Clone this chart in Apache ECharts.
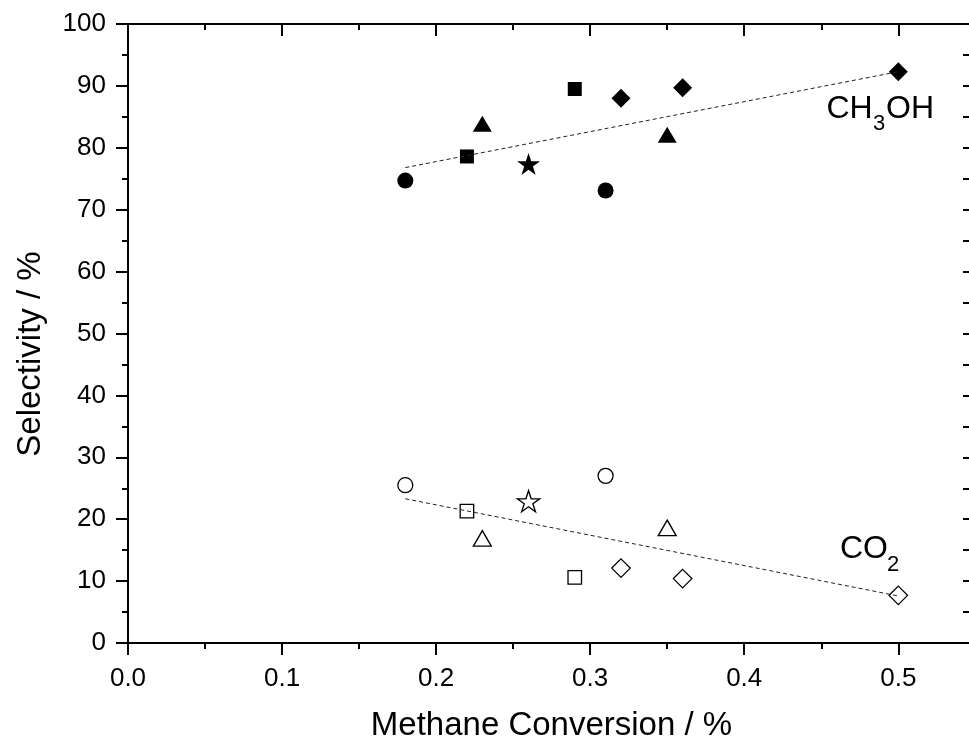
<!DOCTYPE html>
<html><head><meta charset="utf-8">
<script src="https://cdn.jsdelivr.net/npm/echarts@6/dist/echarts.min.js"></script>
<style>html,body{margin:0;padding:0;background:#fff}#c{width:969px;height:742px}</style>
</head><body><div id="c"></div>
<script>
// ---- tick values ----
const xTicks = [0, 0.1, 0.2, 0.3, 0.4, 0.5];
const xMinorTicks = [0.05, 0.15, 0.25, 0.35, 0.45];
const xMin = 0, xMax = 0.542;
const yMin = 0, yMax = 100, yInterval = 10;

// ---- data (methane conversion %, selectivity %) ----
const circleX = [0.18, 0.31];
const circleCH3OH = [74.7, 73.1];
const circleCO2 = [25.5, 27.0];

const squareX = [0.22, 0.29];
const squareCH3OH = [78.6, 89.5];
const squareCO2 = [21.3, 10.6];

const triangleX = [0.23, 0.35];
const triangleCH3OH = [83.9, 82.1];
const triangleCO2 = [16.9, 18.6];

const starX = [0.26];
const starCH3OH = [77.4];
const starCO2 = [22.9];

const diamondX = [0.32, 0.36, 0.50];
const diamondCH3OH = [88.0, 89.7, 92.3];
const diamondCO2 = [12.1, 10.4, 7.7];

const trendX = [0.18, 0.50];
const trendCH3OH = [76.8, 92.3];
const trendCO2 = [23.3, 7.6];

// ---- helpers ----
const FONT = '"Liberation Sans", Arial, Helvetica, sans-serif';
const pts = (xs, ys) => xs.map((x, i) => [x, ys[i]]);
const STAR = 'path://M50 0 L61.23 34.55 L97.55 34.55 L68.16 55.9 L79.39 90.45 L50 69.1 L20.61 90.45 L31.84 55.9 L2.45 34.55 L38.77 34.55 Z';

function filled(name, xs, ys, symbol, size) {
  return { name, type: 'scatter', xAxisIndex: 0, yAxisIndex: 0, data: pts(xs, ys),
    symbol, symbolSize: size, z: 5,
    itemStyle: { color: '#000', borderWidth: 0, opacity: 1 } };
}
function hollow(name, xs, ys, symbol, size) {
  return { name, type: 'scatter', xAxisIndex: 0, yAxisIndex: 0, data: pts(xs, ys),
    symbol, symbolSize: size, z: 5,
    itemStyle: { color: 'rgba(255,255,255,0)', borderColor: '#000', borderWidth: 1.3, opacity: 1 } };
}
function trend(name, ys) {
  return { name, type: 'line', xAxisIndex: 0, yAxisIndex: 0, data: pts(trendX, ys),
    symbol: 'none', z: 6, lineStyle: { color: '#222', width: 1, type: [4, 3] } };
}

const lineS = { color: '#000', width: 2 };
function xAxisDef(pos, major, inside, showLine, labels) {
  return {
    type: 'value', min: xMin, max: xMax, position: pos,
    axisLine: { show: showLine, onZero: false, lineStyle: lineS },
    axisTick: { show: true, inside, length: major ? 12 : 6, lineStyle: lineS,
      customValues: major ? xTicks : xMinorTicks },
    axisLabel: labels ? { show: true, customValues: xTicks, formatter: v => v.toFixed(1),
      fontSize: 26, fontFamily: FONT, color: '#000', margin: 23 } : { show: false },
    splitLine: { show: false }, minorTick: { show: false }
  };
}
function yAxisDef(pos, showLine, labels) {
  return {
    type: 'value', min: yMin, max: yMax, interval: yInterval, position: pos,
    axisLine: { show: showLine, onZero: false, lineStyle: lineS },
    axisTick: { show: true, inside: false, length: 12, lineStyle: lineS },
    minorTick: { show: true, splitNumber: 2, length: 6, lineStyle: lineS },
    axisLabel: labels ? { show: true, fontSize: 26, fontFamily: FONT, color: '#000', margin: 22 } : { show: false },
    splitLine: { show: false }, minorSplitLine: { show: false }
  };
}

function txt(x, y, text, size, align, rot) {
  return { type: 'text', x, y, rotation: rot || 0, z: 10,
    style: { text, fontSize: size, fontFamily: FONT, fill: '#000',
      align: align, textAlign: align, verticalAlign: 'middle', textVerticalAlign: 'middle' } };
}

const chart = echarts.init(document.getElementById('c'), null, { renderer: 'canvas' });
chart.setOption({
  animation: false,
  backgroundColor: '#fff',
  grid: { left: 128, right: 6, top: 24, bottom: 99, containLabel: false },
  xAxis: [
    xAxisDef('bottom', true, false, true, true),
    xAxisDef('bottom', false, false, false, false),
    xAxisDef('top', true, true, true, false),
    xAxisDef('top', false, true, false, false)
  ],
  yAxis: [
    yAxisDef('left', true, true),
    yAxisDef('right', false, false)
  ],
  series: [
    trend('CH3OH trend', trendCH3OH),
    trend('CO2 trend', trendCO2),
    filled('circle CH3OH', circleX, circleCH3OH, 'circle', 16),
    filled('square CH3OH', squareX, squareCH3OH, 'rect', 14),
    filled('triangle CH3OH', triangleX, triangleCH3OH, 'triangle', [19, 16]),
    filled('star CH3OH', starX, starCH3OH, STAR, [23, 22]),
    filled('diamond CH3OH', diamondX, diamondCH3OH, 'diamond', [19, 19]),
    hollow('circle CO2', circleX, circleCO2, 'circle', 15),
    hollow('square CO2', squareX, squareCO2, 'rect', 13.5),
    hollow('triangle CO2', triangleX, triangleCO2, 'triangle', [18, 15.5]),
    hollow('star CO2', starX, starCO2, STAR, [22.5, 21]),
    hollow('diamond CO2', diamondX, diamondCO2, 'diamond', [18.5, 18.5])
  ],
  graphic: [
    txt(551.5, 726, 'Methane Conversion / %', 33, 'center'),
    txt(31, 354, 'Selectivity / %', 33, 'center', Math.PI / 2),
    txt(826.5, 109.5, 'CH', 32, 'left'),
    txt(873, 124, '3', 22, 'left'),
    txt(886, 109.5, 'OH', 32, 'left'),
    txt(840, 549.5, 'CO', 32, 'left'),
    txt(887, 565, '2', 22, 'left')
  ]
});
</script>
</body></html>
